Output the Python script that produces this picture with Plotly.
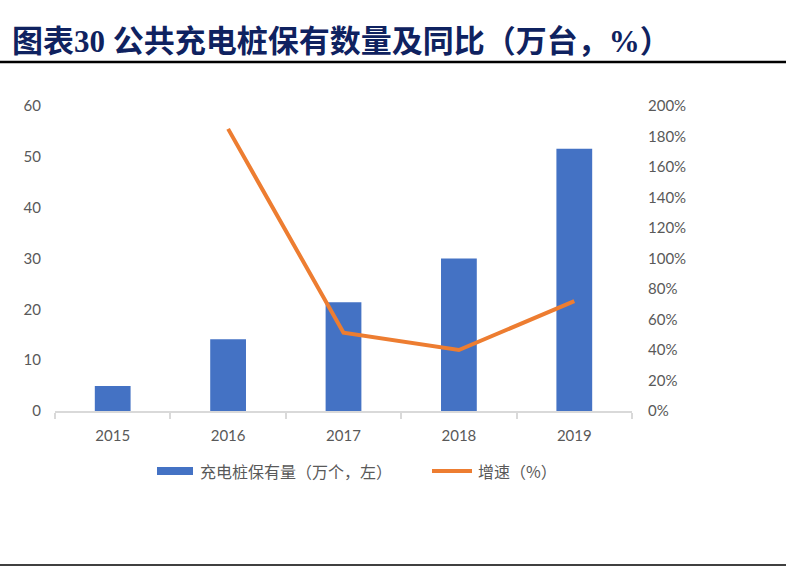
import plotly.graph_objects as go

# data
years = ["2015", "2016", "2017", "2018", "2019"]
piles = [4.9, 14.1, 21.4, 30.0, 51.6]          # 万个, left axis
growth = [None, 1.85, 0.514, 0.40, 0.72]       # yoy, right axis

title_text = "图表30 公共充电桩保有数量及同比（万台，%）"
bar_name = "充电桩保有量（万个，左）"
line_name = "增速（%）"

W, H = 791, 567
L, R, T, B = 55, 632, 106, 411   # plot area in pixels

BAR_COLOR = "#4472C4"
LINE_COLOR = "#ED7D31"
TICK_COLOR = "#595959"
AXIS_COLOR = "#D9D9D9"


def xp(px):
    return (px - L) / (R - L)


def yp(py):
    return (B - py) / (B - T)


fig = go.Figure()

fig.add_trace(go.Bar(
    x=years, y=piles, name=bar_name,
    marker=dict(color=BAR_COLOR, line=dict(width=0)),
    width=0.31,
    yaxis="y",
))

fig.add_trace(go.Scatter(
    x=years, y=growth, name=line_name,
    mode="lines",
    line=dict(color=LINE_COLOR, width=4),
    yaxis="y2",
))

tick_font = dict(family="Lato, Open Sans, sans-serif", size=15, color=TICK_COLOR)

fig.update_layout(
    width=W, height=H,
    margin=dict(l=L, r=W - R, t=T, b=H - B),
    paper_bgcolor="white",
    plot_bgcolor="white",
    showlegend=False,
    xaxis=dict(
        type="category",
        showline=True, linecolor=AXIS_COLOR, linewidth=1.5,
        ticks="outside", tickson="boundaries", ticklen=6,
        tickcolor=AXIS_COLOR, tickwidth=1.5,
        showgrid=False,
        tickfont=tick_font,
        ticklabelstandoff=10,
    ),
    yaxis=dict(
        range=[0, 60], dtick=10,
        showgrid=False, zeroline=False, showline=False,
        tickfont=tick_font,
        ticklabelstandoff=13,
    ),
    yaxis2=dict(
        range=[0, 2], dtick=0.2, tickformat=".0%",
        overlaying="y", side="right", anchor="x",
        showgrid=False, zeroline=False, showline=False,
        tickfont=tick_font,
        ticklabelstandoff=15,
    ),
)

# title and rules
fig.add_annotation(
    text="<b>" + title_text + "</b>",
    xref="paper", yref="paper", x=xp(10), y=yp(41),
    xanchor="left", yanchor="middle", showarrow=False,
    font=dict(family="Liberation Serif, Noto Sans CJK SC", size=31, color="#0F2260"),
)
fig.add_shape(type="line", xref="paper", yref="paper",
              x0=xp(0), x1=xp(786), y0=yp(62), y1=yp(62),
              line=dict(color="black", width=2.5))
fig.add_shape(type="line", xref="paper", yref="paper",
              x0=xp(0), x1=xp(786), y0=yp(565), y1=yp(565),
              line=dict(color="black", width=1.5))

# legend drawn by hand to get the wide Excel-style swatches
legend_font = dict(family="Noto Sans CJK SC", size=16, color=TICK_COLOR)
fig.add_shape(type="rect", xref="paper", yref="paper",
              x0=xp(157), x1=xp(193), y0=yp(475), y1=yp(467),
              fillcolor=BAR_COLOR, line=dict(width=0))
fig.add_annotation(text=bar_name, xref="paper", yref="paper",
                   x=xp(198), y=yp(471), xanchor="left", yanchor="middle",
                   showarrow=False, font=legend_font)
fig.add_shape(type="line", xref="paper", yref="paper",
              x0=xp(432), x1=xp(472), y0=yp(471), y1=yp(471),
              line=dict(color=LINE_COLOR, width=4))
fig.add_annotation(text=line_name, xref="paper", yref="paper",
                   x=xp(476), y=yp(471), xanchor="left", yanchor="middle",
                   showarrow=False, font=legend_font)

# the page body has a default 8px margin; drop it so the figure sits at 0,0
fig.write_html(
    "out.html",
    config={"displayModeBar": False},
    post_script="document.body.style.margin='0';"
                "document.body.style.overflow='hidden';"
                "document.documentElement.style.overflow='hidden';",
)
